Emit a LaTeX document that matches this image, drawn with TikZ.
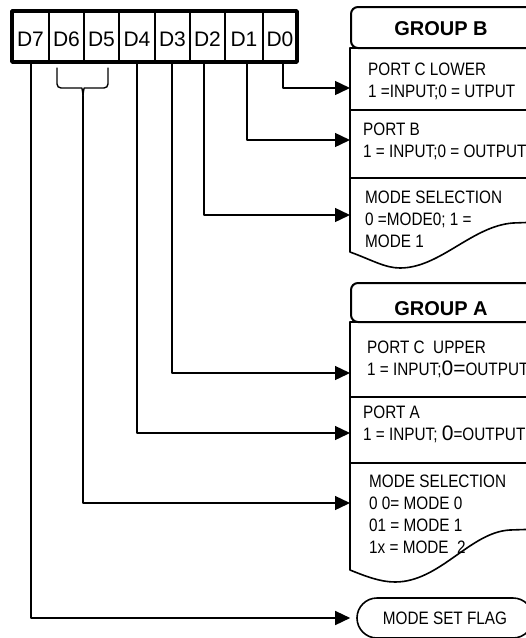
\documentclass[tikz,border=0pt]{standalone}
\usepackage{fontspec}
\setmainfont{Liberation Sans}
\newfontfamily\narrowfont[FakeStretch=0.85]{Liberation Sans}
\usetikzlibrary{arrows.meta}

\tikzset{
  wire/.style={line width=1.4pt, -{Triangle[length=15pt,width=14pt]}},
  box/.style={line width=1.6pt},
  headbox/.style={line width=2pt, rounded corners=7pt},
  boxtext/.style={anchor=base west, inner sep=0pt, align=left,
    font=\narrowfont\fontsize{18}{22}\selectfont},
  head/.style={inner sep=0pt, font=\bfseries\fontsize{20}{24}\selectfont},
  bitlabel/.style={inner sep=0pt, font=\fontsize{21}{24}\selectfont},
  flagbox/.style={draw, line width=1.6pt, rounded corners=20pt,
    minimum width=176pt, minimum height=40pt, inner sep=0pt,
    font=\narrowfont\fontsize{18}{22}\selectfont}
}
\newcommand{\bigdigit}[1]{{\normalfont\fontsize{21}{22}\selectfont #1}}

\begin{document}
\begin{tikzpicture}[x=1pt, y=-1pt, line cap=round, line join=round]

  \useasboundingbox (0,0) rectangle (526,638);
  \clip (0,0) rectangle (526,638);

  % control word register
  \draw[line width=1.2pt] \foreach \x in {49,84,119,155,190,225,263} {(\x,11) -- (\x,62)};
  \draw[line width=3.5pt] (12,11) rectangle (297,62);
  \foreach \name/\x in {D7/30.5, D6/66.5, D5/101.5, D4/137, D3/172.5, D2/207.5, D1/244, D0/280}
    \node[bitlabel] (\name) at (\x,39) {\name};

  % taps under the register
  \coordinate (t7) at (31,62);
  \coordinate (t65) at (83,96);
  \coordinate (t4) at (137,62);
  \coordinate (t3) at (172,62);
  \coordinate (t2) at (204,62);
  \coordinate (t1) at (247,62);
  \coordinate (t0) at (283,62);

  % brace joining D6 and D5
  \draw[line width=1.4pt, rounded corners=4pt] (57,68) |- (78,88) to[out=0,in=90] (t65);
  \draw[line width=1.4pt, rounded corners=4pt] (108,68) |- (88,88) to[out=180,in=90] (t65);

  % group B
  \draw[headbox] (351,7) rectangle (540,48);
  \node[head] (grpB) at (441,28.5) {GROUP B};
  \draw[box] (350,48) rectangle (540,178);
  \draw[box] (350,110) -- (540,110);
  \draw[box] (350,178) -- (350,252) .. controls (372,260) and (385,268) .. (400,268)
    .. controls (440,268) and (472,226) .. (513,223) -- (540,222);

  \coordinate (inPCL) at (350,88);
  \coordinate (inPB) at (350,140);
  \coordinate (inMSB) at (350,215);

  % base of a text = baseline of its last line
  \node[boxtext] (pcl) at (368,97) {PORT C LOWER\\1 =INPUT;0 = UTPUT};
  \node[boxtext] (pb) at (363,157) {PORT B\\1 = INPUT;0 = OUTPUT};
  \node[boxtext] (msB) at (365,247) {MODE SELECTION\\0 =MODE0; 1 =\\MODE 1};

  % group A
  \draw[headbox] (351,283) rectangle (540,322);
  \node[head] (grpA) at (441,308.5) {GROUP A};
  \draw[box] (350,322) rectangle (540,463);
  \draw[box] (350,397) -- (540,397);
  \draw[box] (350,463) -- (350,570) .. controls (365,576) and (380,582) .. (395,582)
    .. controls (440,582) and (470,532) .. (510,530) -- (540,529);

  \coordinate (inPCU) at (350,373);
  \coordinate (inPA) at (350,433);
  \coordinate (inMSA) at (350,503);

  \node[boxtext] (pcu) at (367,375) {PORT C\ \ UPPER\\1 = INPUT;\bigdigit{0=}OUTPUT};
  \node[boxtext] (pa) at (363,440) {PORT A\\1 = INPUT; \bigdigit{0}=OUTPUT};
  \node[boxtext] (msA) at (369,553) {MODE SELECTION\\0 0= MODE 0\\01 = MODE 1\\1x = MODE\ \ 2};

  % mode set flag
  \node[flagbox] (flag) at (445,618) {MODE SET FLAG};

  % connectors
  \draw[wire] (t0) |- (inPCL);
  \draw[wire] (t1) |- (inPB);
  \draw[wire] (t2) |- (inMSB);
  \draw[wire] (t3) |- (inPCU);
  \draw[wire] (t4) |- (inPA);
  \draw[wire] (t65) |- (inMSA);
  \draw[wire, shorten >=6pt] (t7) |- (flag.west);

\end{tikzpicture}
\end{document}
